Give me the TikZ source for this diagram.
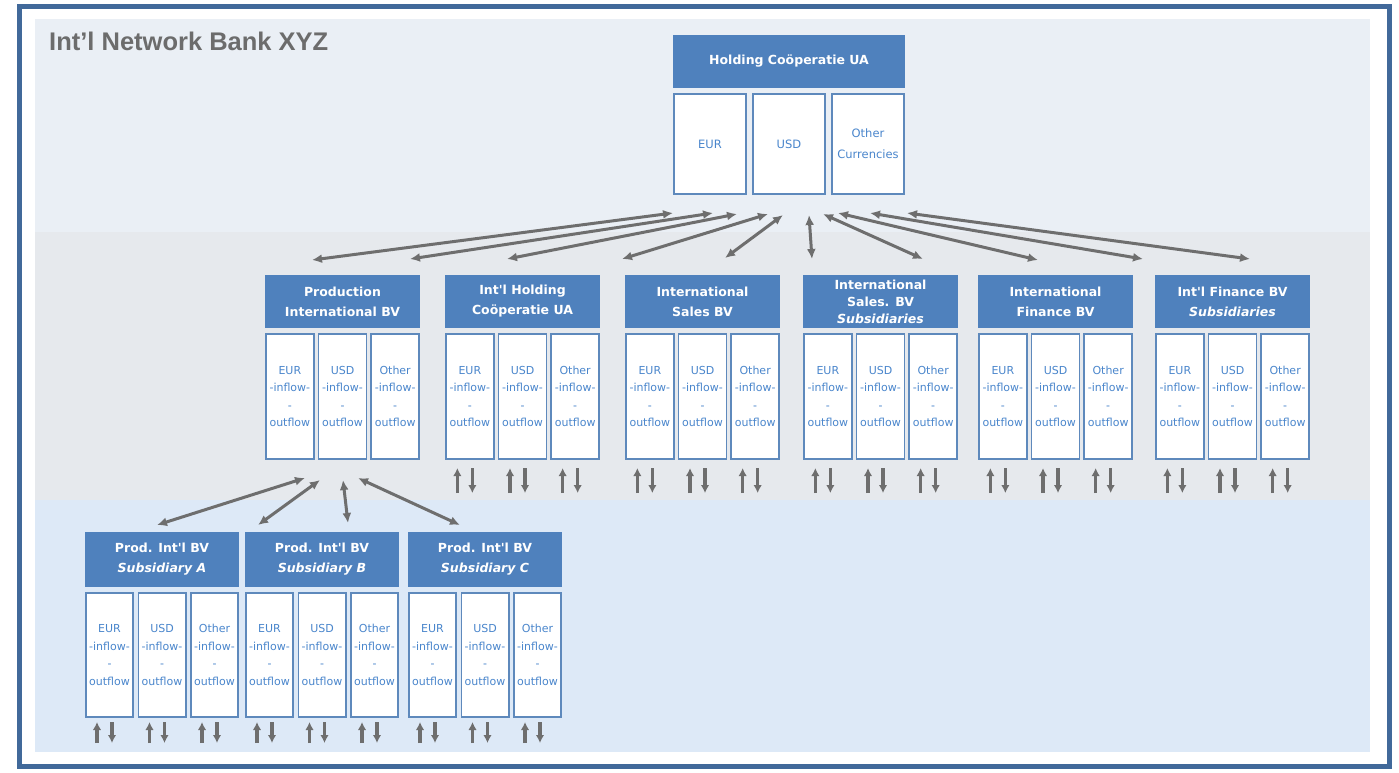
\documentclass[tikz,border=0pt]{standalone}
\usepackage{fontspec}
\setmainfont{Liberation Sans}
\newfontfamily\boxfont{DejaVu Sans}
\usetikzlibrary{arrows.meta}
\usetikzlibrary{positioning}
\definecolor{FRAME-BLUE}{HTML}{41699A}
\definecolor{HEAD-BLUE}{HTML}{4F81BD}
\definecolor{CELL-LINE}{HTML}{5E89BC}
\definecolor{CELL-TEXT}{HTML}{4A86CC}
\definecolor{ARROW-GREY}{HTML}{6E6E6E}
\definecolor{TITLE-GREY}{HTML}{6C6C6C}
\definecolor{PANEL-TOP}{HTML}{EAEFF5}
\definecolor{PANEL-MID}{HTML}{E6E9ED}
\definecolor{PANEL-LOW}{HTML}{DDE9F7}

\tikzset{
  head/.style={fill=HEAD-BLUE,text=white,align=center,inner sep=0pt,
    font=\boxfont\bfseries\fontsize{12.5}{20}\selectfont},
  cell/.style={draw=CELL-LINE,line width=1.6pt,fill=white,text=CELL-TEXT,align=center,
    inner sep=0pt,font=\boxfont\fontsize{11}{17.5}\selectfont},
  link/.style={{Latex[length=10pt,width=9pt]}-{Latex[length=10pt,width=9pt]},draw=ARROW-GREY,line width=3pt},
  flow/.style={-{Latex[length=8pt,width=8.5pt]},draw=ARROW-GREY,line width=3.2pt}
}

\begin{document}
\begin{tikzpicture}[x=1pt,y=-1pt]
			\useasboundingbox (0,0) rectangle (1399,772);

			% draw panels and frame
			\fill[PANEL-TOP] (35,19) rectangle (1370,232);
			\fill[PANEL-MID] (35,232) rectangle (1370,500);
			\fill[PANEL-LOW] (35,500) rectangle (1370,752);
			\draw[FRAME-BLUE,line width=5pt] (19,6.5) rectangle (1389,766);
			\node[anchor=west,inner sep=0pt,text=TITLE-GREY,font=\bfseries\fontsize{25.5}{30}\selectfont] (title) at (49,41) {Int'l Network Bank XYZ};

			% draw holding
			\node[head,minimum width=232pt,minimum height=53pt] (holding) at (789,61.5) {Holding Coöperatie UA};
			\foreach \k/\cur in {1/EUR,2/USD,3/{Other\\Currencies}}
				\node[cell,minimum width=72.5pt,minimum height=100.5pt,
				  font=\boxfont\fontsize{11.5}{21}\selectfont] (holding-\k) at (710+79*\k-79,144) {\cur};

			% draw second row
			\foreach \lx/\nm/\txt in {265/prod/{Production\\International BV},
			    445/hold/{Int'l Holding\\Coöperatie UA},
			    625/sales/{International\\Sales BV},
			    803/salessub/{International\\[-3pt]Sales. BV\\[-3pt]\textit{Subsidiaries}},
			    978/fin/{International\\Finance BV},
			    1155/finsub/{Int'l Finance BV\\\textit{Subsidiaries}}} {
				\node[head,minimum width=155pt,minimum height=53pt] (\nm) at (\lx+77.5,301.5) {\txt};
				\foreach \k/\cur in {1/EUR,2/USD,3/Other}
					\node[cell,minimum width=48pt,minimum height=125.5pt] (\nm-\k) at (\lx+24.85+52.65*\k-52.65,396.5) {\cur\\-inflow-\\-\\outflow};
			}

			% draw third row
			\foreach \lx/\nm/\sub in {85/suba/A,245/subb/B,408/subc/C} {
				\node[head,minimum width=154pt,minimum height=55pt] (\nm) at (\lx+77,559.5) {Prod. Int'l BV\\\textit{Subsidiary \sub}};
				\foreach \k/\cur in {1/EUR,2/USD,3/Other}
					\node[cell,minimum width=47.4pt,minimum height=124.4pt] (\nm-\k) at (\lx+24.5+52.5*\k-52.5,655) {\cur\\-inflow-\\-\\outflow};
			}

			% draw arrows to holding
			\foreach \i/\tx/\ty/\bx/\by in {1/673/213/312/260, 2/713/213/410/259, 3/737/214/507/259,
			    4/768/214/622/259, 5/783/215/725/258, 6/809/215/812/259, 7/823/214/923/259,
			    8/838/213/1038/260, 9/870/213/1143/259, 10/907/213/1250/259} {
				\coordinate (up\i) at (\tx,\ty);
				\coordinate (dn\i) at (\bx,\by);
				\draw[link] (up\i) -- (dn\i);
			}

			% draw arrows to subsidiaries
			\foreach \i/\tx/\ty/\bx/\by in {1/305/478/157/525, 2/320/480/258/525,
			    3/343/480/348/523, 4/358/478/460/525} {
				\coordinate (pu\i) at (\tx,\ty);
				\coordinate (pd\i) at (\bx,\by);
				\draw[link] (pu\i) -- (pd\i);
			}

			% draw inflow and outflow arrows
			\foreach \nm in {hold,sales,salessub,fin,finsub}
				\foreach \k in {1,2,3} {
					\draw[flow] ([shift={(-12.5,33)}]\nm-\k.south) -- ++(0,-25);
					\draw[flow] ([shift={(2.5,8)}]\nm-\k.south) -- ++(0,25);
				}
			\foreach \nm in {suba,subb,subc}
				\foreach \k in {1,2,3} {
					\draw[flow] ([shift={(-12.5,25)}]\nm-\k.south) -- ++(0,-21);
					\draw[flow] ([shift={(2.5,4)}]\nm-\k.south) -- ++(0,21);
				}
		\end{tikzpicture}
\end{document}
